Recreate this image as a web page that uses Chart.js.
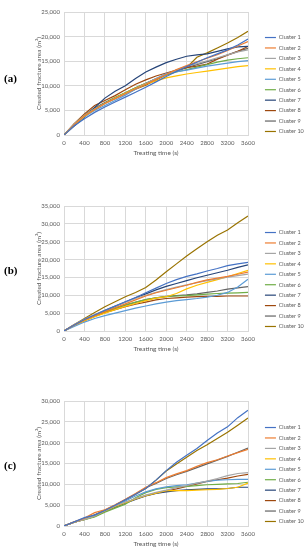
<!DOCTYPE html>
<html><head><meta charset="utf-8">
<script src="https://cdn.jsdelivr.net/npm/chart.js@4/dist/chart.umd.min.js"></script>
<style>
html,body{margin:0;padding:0;background:#fff;width:304px;height:550px;overflow:hidden;}
.panel{position:absolute;left:0;width:304px;}
.lab{position:absolute;left:4px;font:bold 11px "Liberation Serif","DejaVu Serif",serif;color:#000;}
</style></head><body>
<div class="panel" style="top:0;height:183px"><canvas id="ca"></canvas></div>
<div class="panel" style="top:183px;height:183px"><canvas id="cb"></canvas></div>
<div class="panel" style="top:366px;height:184px"><canvas id="cc"></canvas></div>
<div class="lab" style="top:72px">(a)</div>
<div class="lab" style="top:264px">(b)</div>
<div class="lab" style="top:459px">(c)</div>
<script>
const times = [0,200,400,600,800,1000,1200,1400,1600,1800,2000,2200,2400,2600,2800,3000,3200,3400,3600];
const clusterNames = ["Cluster 1","Cluster 2","Cluster 3","Cluster 4","Cluster 5","Cluster 6","Cluster 7","Cluster 8","Cluster 9","Cluster 10"];
const clusterColors = ["#4472C4","#ED7D31","#A5A5A5","#FFC000","#5B9BD5","#70AD47","#264478","#9E480E","#636363","#997300"];
const xTicks = [0,400,800,1200,1600,2000,2400,2800,3200,3600];

// Panel (a)
const a1 = [0,1900,3300,4600,5700,6700,7700,8700,9700,10800,11900,12900,13900,14800,15700,16500,17300,18300,19500];
const a2 = [0,2100,3900,5200,6400,7400,8400,9400,10300,11300,12300,13300,14100,14900,15600,16300,17200,18100,19000];
const a3 = [0,2200,4000,5300,6400,7400,8400,9400,10400,11400,12300,13200,14000,14500,15100,15700,16300,16900,17300];
const a4 = [0,2100,3800,5200,6400,7500,8500,9500,10400,11000,11600,12000,12400,12700,13000,13300,13600,13900,14100];
const a5 = [0,2000,3700,5000,6000,7000,8100,9300,10400,11500,12500,12900,13200,13600,14000,14300,14600,14900,15100];
const a6 = [0,2200,4000,5300,6500,7600,8600,9600,10500,11400,12200,12800,13300,13800,14300,14800,15200,15500,15700];
const a7 = [0,1800,3600,5600,7500,8900,10000,11500,12800,13800,14700,15400,16000,16300,16500,17000,17500,17900,18000];
const a8 = [0,2300,4300,6000,7000,8000,9200,10300,11200,12000,12600,13200,13700,14000,14400,15400,16200,17000,18000];
const a9 = [0,2200,4100,5500,6600,7600,8600,9600,10500,11400,12300,13100,13700,14300,14900,15500,16300,17000,17600];
const a10 = [0,2100,3900,5300,6500,7400,8400,9300,10100,11200,12200,13000,13700,15800,16700,17700,18700,19800,21100];

// Panel (b)
const b1 = [0,1700,3200,4500,5800,7000,8200,9400,10700,12000,13300,14400,15300,16000,16800,17500,18300,18800,19200];
const b2 = [0,1700,3100,4300,5400,6500,7600,8700,9800,10700,11400,12100,12800,13600,14300,14800,15300,15900,16500];
const b3 = [0,1800,3300,4600,5800,7000,8100,9100,10000,10800,11600,12300,12900,13500,14100,14600,15100,15500,15900];
const b4 = [0,1600,2900,4000,5000,6000,6900,7700,8500,9200,9600,10500,11800,12800,13600,14400,15200,16100,17000];
const b5 = [0,1300,2500,3500,4300,5000,5700,6400,7000,7600,8100,8500,8800,9100,9500,10000,10800,12300,14500];
const b6 = [0,1700,3100,4300,5400,6400,7300,8100,8800,9300,9600,9800,9900,10100,10300,10500,10600,10700,10800];
const b7 = [0,1700,3200,4500,5700,6900,8100,9300,10400,11500,12500,13300,14100,14900,15600,16300,17000,17800,18500];
const b8 = [0,1600,2900,4100,5100,6000,6800,7500,8100,8700,9100,9300,9500,9600,9700,9700,9800,9800,9800];
const b9 = [0,1700,3000,4200,5300,6300,7200,8000,8800,9300,9700,9900,10100,10400,10800,11200,11700,12100,12400];
const b10 = [0,1800,3500,5200,6800,8200,9600,10800,12200,14300,16600,18800,21000,23000,25000,26800,28300,30300,32200];

// Panel (c)
const c1 = [0,1000,2000,2600,3700,5000,6300,7600,9000,11000,13300,15300,17000,18600,20500,22300,23800,26000,27800];
const c2 = [0,1000,1900,3200,3900,5100,6400,7800,9300,10400,11600,12500,13300,14300,15200,15900,16800,17600,18400];
const c3 = [0,900,1600,2400,3700,4800,5700,6600,7400,8100,8600,9200,9700,10300,10800,11400,12100,12600,12800];
const c4 = [0,900,1600,2400,3600,4700,5600,6500,7300,7900,8500,8500,8500,8600,8700,8800,9000,9300,10300];
const c5 = [0,900,1600,2400,3600,4800,6000,7200,8200,8900,9400,9700,9900,10300,10700,11000,11100,11200,11200];
const c6 = [0,900,1500,2200,3300,4300,5200,6800,8000,8800,9200,9400,9500,9700,9900,10000,10100,10200,10500];
const c7 = [0,900,1600,2300,3500,4500,5500,6400,7200,7800,8200,8500,8700,8800,8900,8900,9000,9300,9300];
const c8 = [0,900,1600,2400,3600,4600,5600,6500,7300,7900,8400,8900,9500,10100,10700,11100,11500,12000,12400];
const c9 = [0,900,1700,2700,3800,5000,6300,7700,9200,10200,11400,12300,13100,14000,14900,15800,16700,17700,18700];
const c10 = [0,1000,1700,2600,3800,5000,6300,7600,9000,11000,13200,14900,16500,18100,19500,21000,22500,24200,25900];

const yMaxA = 25000, yMaxB = 35000, yMaxC = 30000;

const FONT = "Lato, 'Open Sans', sans-serif";
const TXT = "#595959";
const GRID = "#d9d9d9";

function makeChart(id, series, yMax, padTop, padBottom) {
  const datasets = series.map((s, i) => ({
    label: clusterNames[i],
    data: times.map((t, k) => ({x: t, y: s[k]})),
    borderColor: clusterColors[i],
    backgroundColor: clusterColors[i],
    borderWidth: 1.2,
    pointRadius: 0,
    tension: 0,
    fill: false
  }));
  new Chart(document.getElementById(id), {
    type: 'line',
    data: {datasets},
    options: {
      responsive: true,
      maintainAspectRatio: false,
      animation: false,
      events: [],
      layout: {padding: {top: padTop, bottom: padBottom, left: 35, right: 0}},
      plugins: {
        tooltip: {enabled: false},
        legend: {
          position: 'right',
          align: 'center',
          maxWidth: 44,
          labels: {
            usePointStyle: true,
            pointStyle: 'line',
            pointStyleWidth: 11,
            padding: 4.94,
            color: TXT,
            font: {family: FONT, size: 5.5}
          }
        }
      },
      scales: {
        x: {
          type: 'linear', min: 0, max: 3600,
          afterBuildTicks: s => { s.ticks = xTicks.map(v => ({value: v})); },
          afterFit: s => { s.height = 22; },
          grid: {color: GRID, drawTicks: false},
          border: {color: GRID},
          ticks: {color: TXT, font: {family: FONT, size: 6}, padding: 4, maxRotation: 0, autoSkip: false,
                  callback: v => String(v)},
          title: {display: true, text: 'Treating time (s)', color: TXT, font: {family: FONT, size: 6.5}, padding: 0}
        },
        y: {
          type: 'linear', min: 0, max: yMax,
          ticks: {stepSize: 5000, color: TXT, font: {family: FONT, size: 6}, padding: 4},
          afterFit: s => { s.width = 29; },
          grid: {color: GRID, drawTicks: false},
          border: {color: GRID},
          title: {display: true, text: 'Created fracture area (m²)', color: TXT, font: {family: FONT, size: 6.5}, padding: 0}
        },
        gap: {
          type: 'linear', position: 'right', display: true,
          grid: {display: false, drawTicks: false}, border: {display: false},
          ticks: {display: false},
          afterFit: s => { s.width = 12; }
        }
      }
    }
  });
}

makeChart('ca', [a1,a2,a3,a4,a5,a6,a7,a8,a9,a10], yMaxA, 12, 26);
makeChart('cb', [b1,b2,b3,b4,b5,b6,b7,b8,b9,b10], yMaxB, 23, 13);
makeChart('cc', [c1,c2,c3,c4,c5,c6,c7,c8,c9,c10], yMaxC, 35, 2);
</script>
</body></html>
